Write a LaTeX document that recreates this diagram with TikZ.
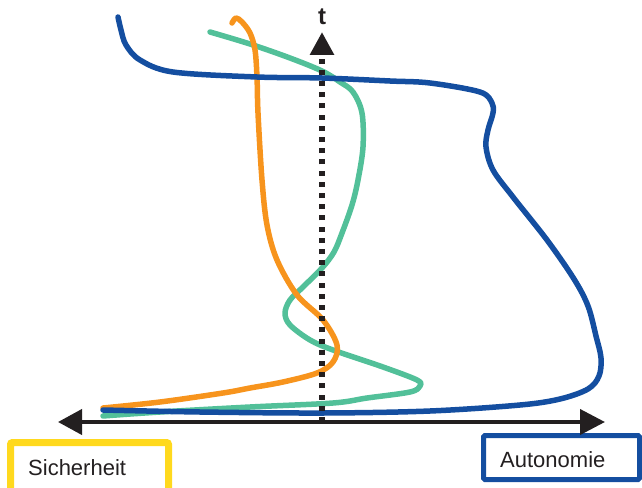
\documentclass[tikz,border=0pt]{standalone}
\usepackage{fontspec}
\setmainfont{Liberation Sans}
\usetikzlibrary{arrows.meta}
\definecolor{cblue}{RGB}{20,78,160}
\definecolor{cgreen}{RGB}{82,192,153}
\definecolor{corange}{RGB}{247,148,29}
\definecolor{cyellow}{RGB}{255,217,30}
\definecolor{caxis}{RGB}{35,31,32}
\begin{document}
\begin{tikzpicture}[x=1pt,y=-1pt,
  curve/.style={line width=5.5pt, line cap=round, line join=round},
  label/.style={anchor=base west, inner sep=0pt, font=\fontsize{22}{26}\selectfont, text=caxis}]
\useasboundingbox (0,0) rectangle (642,487);
\clip (0,0) rectangle (642,487);
% boxes
\draw[cyellow, line width=7pt, rounded corners=2pt] (10.5,442.5) rectangle (168.5,500);
\node[label] (sich) at (28,475) {Sicherheit};
\draw[cblue, line width=5pt, rounded corners=1.5pt] (483.5,435.5) rectangle (639.5,479.5);
\node[label] (auto) at (500,467) {Autonomie};
% axis
\coordinate (axL) at (58,422);
\coordinate (axR) at (605,422);
\draw[caxis, line width=4pt, {Triangle[length=24pt,width=25pt]}-{Triangle[length=25pt,width=25pt]}] (axL) -- (axR);
% curves
\draw[cgreen, curve] plot[smooth, tension=0.55] coordinates {(210,32) (250,44) (290,58) (322,71) (340,82) (353,92) (362,113) (363,147) (358,180) (352,205) (342,233) (334,252) (322,268) (303,287) (290,300) (285,313) (290,325) (310,340) (333,350) (383,367) (417,380) (420,386) (410,392) (367,398) (333,403) (250,407) (160,412) (103,416)};
\draw[corange, curve] plot[smooth, tension=0.55] coordinates {(232,23) (236,18) (242,22) (250,33) (255,50) (257,77) (258,113) (262,180) (267,225) (277,260) (297,295) (323,320) (337,345) (333,362) (317,373) (283,382) (250,388) (223,393) (160,402) (103,408)};
\draw[cblue, curve] plot[smooth, tension=0.55] coordinates {(118,17) (121,30) (126,45) (140,60) (173,72) (257,77) (322,78) (390,81) (430,83) (480,92) (492,103) (493,113) (488,130) (486,147) (493,170) (513,197) (547,240) (574,279) (588,306) (596,336) (601,358) (599,376) (588,389) (560,399) (520,405) (430,411) (323,413) (200,412) (103,410)};
% time axis
\coordinate (t0) at (322,422);
\coordinate (t1) at (322,32);
\draw[caxis, line width=6pt, dash pattern=on 5pt off 6.2pt, -{Triangle[length=23pt,width=23pt]}] (t0) -- (t1);
\node[inner sep=0pt, font=\fontsize{24}{28}\selectfont\bfseries, text=caxis] (tlab) at (322,17) {t};
\end{tikzpicture}
\end{document}
